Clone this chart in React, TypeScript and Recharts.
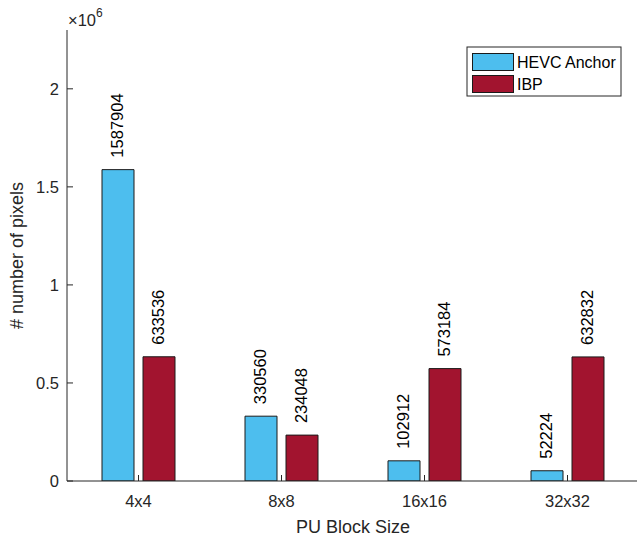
import React from "react";
import { BarChart, Bar, XAxis, YAxis, LabelList } from "recharts";

const categories = ["4x4", "8x8", "16x16", "32x32"];
const hevcAnchor = [1587904, 330560, 102912, 52224];
const ibp = [633536, 234048, 573184, 632832];
const yTicks = [0, 500000, 1000000, 1500000, 2000000];

const series = [
  { key: "hevc", name: "HEVC Anchor", color: "#4DBEEE" },
  { key: "ibp", name: "IBP", color: "#A2142F" },
];

const data = categories.map((size, i) => ({
  size,
  hevc: hevcAnchor[i],
  ibp: ibp[i],
}));

const FONT = "'Liberation Sans', Arial, Helvetica, sans-serif";
const AXIS = "#262626";

const ValueLabel = (props: any) => {
  const x = Number(props.x);
  const y = Number(props.y);
  const w = Number(props.width);
  const cx = x + w / 2 - 1;
  const ty = y - 12;
  return (
    <text
      x={cx}
      y={ty}
      transform={`rotate(-90 ${cx} ${ty})`}
      textAnchor="start"
      dominantBaseline="central"
      fontSize={16.5}
      fontFamily={FONT}
      fill="#000"
    >
      {props.value}
    </text>
  );
};

const LegendBox = () => (
  <svg
    width={156}
    height={51}
    style={{ position: "absolute", left: 466, top: 46 }}
  >
    <rect x={1} y={1} width={154} height={49} fill="#fff" stroke={AXIS} strokeWidth={1} />
    {series.map((s, i) => (
      <g key={s.key}>
        <rect
          x={6.5}
          y={7.5 + i * 22}
          width={41}
          height={17}
          fill={s.color}
          stroke="#1a1a1a"
          strokeWidth={1}
        />
        <text
          x={51}
          y={16 + i * 22}
          dominantBaseline="central"
          fontSize={16}
          fontFamily={FONT}
          fill="#000"
        >
          {s.name}
        </text>
      </g>
    ))}
  </svg>
);

export default function App() {
  return (
    <div
      style={{
        position: "absolute",
        left: 0,
        top: 0,
        width: 637,
        height: 538,
        overflow: "hidden",
        background: "#fff",
        fontFamily: FONT,
      }}
    >
      <BarChart
        width={639}
        height={538}
        data={data}
        margin={{ top: 30, right: 0, bottom: 0, left: 0 }}
        barSize={32}
        barGap={9}
      >
        <XAxis
          dataKey="size"
          height={57}
          tickSize={-6}
          tickMargin={20}
          stroke={AXIS}
          tick={{ fill: AXIS, fontSize: 16.5, fontFamily: FONT }}
          label={{
            value: "PU Block Size",
            position: "insideBottom",
            offset: 5,
            fill: AXIS,
            fontSize: 18,
            fontFamily: FONT,
          }}
        />
        <XAxis
          xAxisId="top"
          dataKey="size"
          orientation="top"
          height={0}
          tickSize={-6}
          stroke={AXIS}
          tickFormatter={() => ""}
        />
        <YAxis
          width={67}
          domain={[0, 2300000]}
          ticks={yTicks}
          allowDataOverflow
          tickSize={-6}
          tickMargin={14}
          stroke={AXIS}
          tick={{ fill: AXIS, fontSize: 16.5, fontFamily: FONT }}
          tickFormatter={(v: number) => String(v / 1000000)}
          label={{
            value: "# number of pixels",
            angle: -90,
            position: "insideLeft",
            offset: 17,
            fill: AXIS,
            fontSize: 18,
            fontFamily: FONT,
            style: { textAnchor: "middle" },
          }}
        />
        <YAxis
          yAxisId="right"
          orientation="right"
          width={0}
          domain={[0, 2300000]}
          ticks={yTicks}
          allowDataOverflow
          tickSize={-6}
          stroke={AXIS}
          tickFormatter={() => ""}
        />
        {series.map((s) => (
          <Bar
            key={s.key}
            dataKey={s.key}
            name={s.name}
            fill={s.color}
            stroke="#1a1a1a"
            strokeWidth={1}
            isAnimationActive={false}
          >
            <LabelList dataKey={s.key} content={ValueLabel} />
          </Bar>
        ))}
      </BarChart>
      <svg
        width={60}
        height={30}
        style={{ position: "absolute", left: 66, top: 2 }}
      >
        <text x={2} y={24} fontSize={16.5} fontFamily={FONT} fill={AXIS}>
          ×10
          <tspan dy={-9} fontSize={12}>
            6
          </tspan>
        </text>
      </svg>
      <LegendBox />
    </div>
  );
}
